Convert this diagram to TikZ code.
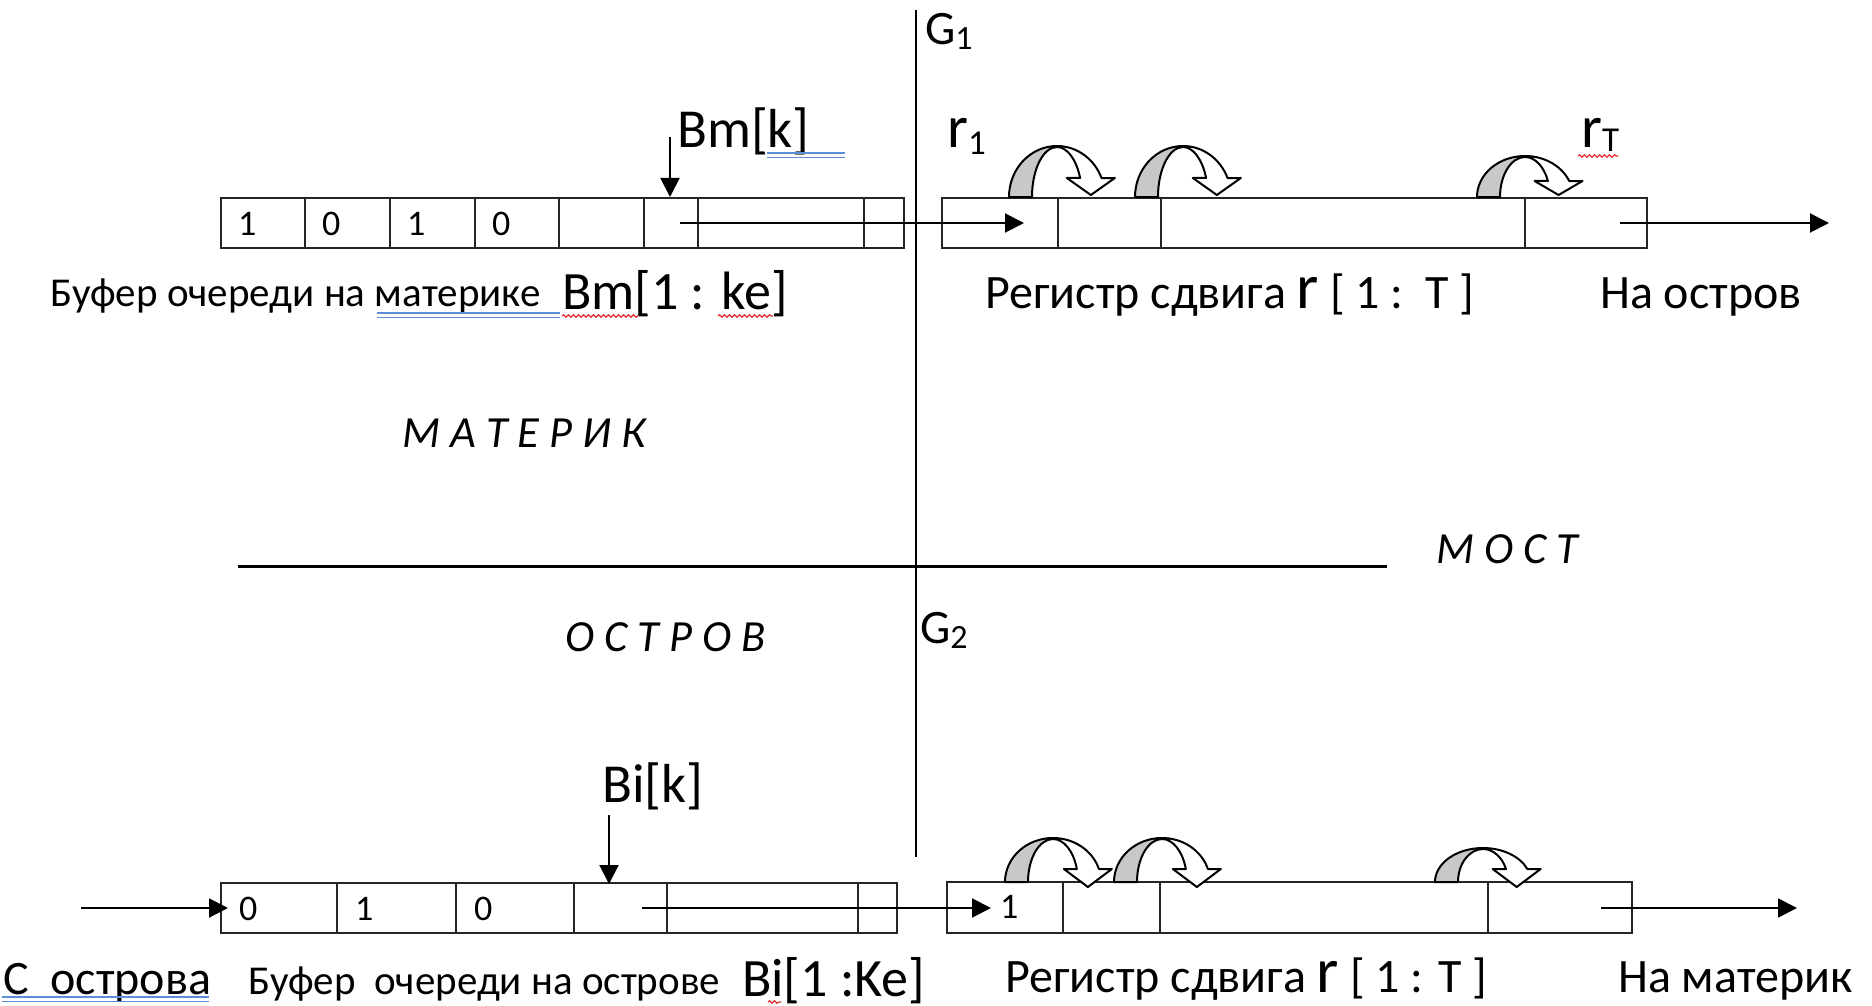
\documentclass[tikz,border=0pt]{standalone}
\usepackage{fontspec}
\setmainfont{Carlito}
\usetikzlibrary{arrows.meta,decorations.pathmorphing}

\definecolor{bendgrey}{HTML}{C8C8C8}
\definecolor{gramblue}{HTML}{5B8ED9}
\definecolor{spellred}{HTML}{E03030}

\newcommand\fs[1]{\fontsize{#1}{#1}\selectfont}
% lowered small-size index
\newcommand\idx[3]{{\fs{#1}\raisebox{-#2pt}{#3}}}

% curved "shift" arrow: centre x, base y, height, head-base height, tip height
\newcommand\bendarrow[5]{%
  \begin{scope}[shift={(#1,#2)},y=1pt]
    \pgfmathsetmacro\bao{asin(#4/#3)}
    \pgfmathsetmacro\bai{asin(#4/(#3-1))}
    \pgfmathsetmacro\bxo{48*cos(\bao)}
    \pgfmathsetmacro\bxi{25*cos(\bai)}
    \pgfmathsetmacro\bxm{(\bxo+\bxi)/2}
    \draw[bendline,fill=bendgrey] (-48,0)
      arc[start angle=180,end angle=90,x radius=48,y radius=#3]
      -- (0,#3-1) arc[start angle=90,end angle=180,x radius=25,y radius=#3-1]
      -- cycle;
    \draw[bendline,fill=white] (0,#3)
      arc[start angle=90,end angle=\bao,x radius=48,y radius=#3]
      -- (\bxm+24,#4) -- (\bxm,#5) -- (\bxm-24,#4) -- (\bxi,#4)
      arc[start angle=\bai,end angle=90,x radius=25,y radius=#3-1]
      -- cycle;
  \end{scope}}

\begin{document}
\begin{tikzpicture}[x=1pt,y=-1pt,
  cellline/.style={line width=1.3pt,draw=black!85},
  flow/.style={line width=2pt,-{Triangle[length=19pt,width=19pt]}},
  bendline/.style={line width=2pt,line join=round},
  lbl/.style={inner sep=0pt,anchor=base west},
  region/.style={lbl,font=\fs{44.5}\itshape},
  digit/.style={lbl,font=\fs{36}},
  gramline/.style={gramblue,line width=1.3pt},
  spellline/.style={spellred,line width=1.2pt,decorate,
    decoration={snake,segment length=5pt,amplitude=1.3pt}}]
\useasboundingbox[fill=white] (0,0) rectangle (1872,1006);

% dividing lines: bridge axis and gates
\coordinate (gtop) at (916,10);
\coordinate (gbot) at (916,857);
\coordinate (bl) at (238,566);
\coordinate (br) at (1387,566);
\draw[line width=2.5pt] (gtop) -- (gbot);
\draw[line width=3pt] (bl) -- (br);

% ---------- mainland queue Bm ----------
\draw[cellline] (221,198) rectangle (904,248);
\foreach \x in {305,390,475,559,644,698,864} \draw[cellline] (\x,198) -- (\x,248);
\node[digit] (bm1) at (238,235) {1};
\node[digit] (bm2) at (322,235) {0};
\node[digit] (bm3) at (407,235) {1};
\node[digit] (bm4) at (492,235) {0};

% ---------- shift register to the island ----------
\draw[cellline] (942,198) rectangle (1647,248);
\foreach \x in {1058,1161,1525} \draw[cellline] (\x,198) -- (\x,248);

\coordinate (bmout) at (680,223);
\coordinate (rin) at (1024,223);
\coordinate (rout) at (1620,223);
\coordinate (toisl) at (1829,223);
\draw[flow] (bmout) -- (rin);
\draw[flow] (rout) -- (toisl);

\coordinate (bmkfrom) at (670,137);
\coordinate (bmkto) at (670,197);
\draw[flow] (bmkfrom) -- (bmkto);

\bendarrow{1057}{197}{51}{19}{2}
\bendarrow{1183}{197}{51}{19}{2}
\bendarrow{1525}{197}{41}{16}{2}

% ---------- island queue Bi ----------
\draw[cellline] (221,883) rectangle (897,933);
\foreach \x in {337,456,574,667,858} \draw[cellline] (\x,883) -- (\x,933);
\node[digit] (bi1) at (239,920) {0};
\node[digit] (bi2) at (355,920) {1};
\node[digit] (bi3) at (474,920) {0};

% ---------- shift register to the mainland ----------
\draw[cellline] (947,882) rectangle (1632,933);
\foreach \x in {1063,1160,1488} \draw[cellline] (\x,882) -- (\x,933);
\node[digit] (ri1) at (1000,918) {1};

\coordinate (fromisl) at (81,908);
\coordinate (biin) at (228,908);
\coordinate (biout) at (642,908);
\coordinate (rin2) at (991,908);
\coordinate (rout2) at (1601,908);
\coordinate (tomain) at (1797,908);
\draw[flow] (fromisl) -- (biin);
\draw[flow] (biout) -- (rin2);
\draw[flow] (rout2) -- (tomain);

\coordinate (bikfrom) at (609,815);
\coordinate (bikto) at (609,884);
\draw[flow] (bikfrom) -- (bikto);

\bendarrow{1053}{882}{44}{13}{-5}
\bendarrow{1162}{882}{44}{13}{-5}
\bendarrow{1483}{882}{34}{13}{-5}

% ---------- labels ----------
\node[lbl,font=\fs{48}] (g1) at (925,45) {G\idx{34}{5}{1}};
\node[lbl,font=\fs{48}] (g2) at (920,643) {G\idx{34}{5}{2}};
\node[lbl,font=\fs{60}] (r1) at (947,148) {r\idx{35}{7}{1}};
\node[lbl,font=\fs{60}] (rT) at (1581,148) {r\idx{35}{4}{T}};
\node[lbl,font=\fs{55}] (bmk) at (677,148) {Bm[k]};
\node[lbl,font=\fs{55}] (bik) at (602,802) {Bi[k]};

\node[lbl,font=\fs{41}] (bmcap) at (50,306) {Буфер очереди на материке};
\node[lbl,font=\fs{54}] (bmrange) at (562,309) {Bm[1 : ke]};
\node[lbl,font=\fs{48}] (r1cap) at (985,308) {Регистр сдвига {\fs{64}r} [ 1 :\ \ T ]};
\node[lbl,font=\fs{48}] (toislcap) at (1600,308) {На остров};

\node[region] (mainland) at (402,447) {М А Т Е Р И К};
\node[region] (bridge) at (1436,563) {М О С Т};
\node[region] (island) at (565,651) {О С Т Р О В};

\node[lbl,font=\fs{48}] (fromcap) at (3,994) {С\ \ острова};
\node[lbl,font=\fs{41}] (bicap) at (248,994) {Буфер\ \ очереди на острове};
\node[lbl,font=\fs{54}] (birange) at (742,996) {Bi[1 :Ke]};
\node[lbl,font=\fs{48}] (r2cap) at (1005,992) {Регистр сдвига {\fs{64}r} [ 1 : T ]};
\node[lbl,font=\fs{48}] (tomaincap) at (1618,992) {На материк};

% proofing marks under the text
\draw[gramline] (377,313) -- (560,313) (377,317.5) -- (560,317.5);
\draw[spellline] (562,316) -- (638,316);
\draw[spellline] (718,316) -- (773,316);
\draw[gramline] (767,153) -- (845,153) (767,157.5) -- (845,157.5);
\draw[spellline] (1578,156) -- (1618,156);
\draw[gramline] (2,997) -- (209,997) (2,1001.5) -- (209,1001.5);
\draw[spellline] (768,1002) -- (781,1002);
\end{tikzpicture}
\end{document}
